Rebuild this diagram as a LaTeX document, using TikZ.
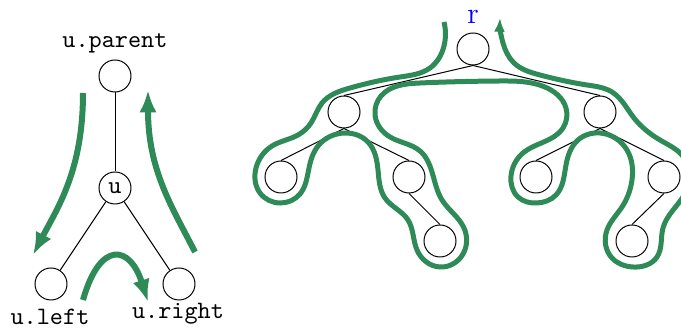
\documentclass[tikz,border=0pt]{standalone}
\usetikzlibrary{hobby,arrows.meta}
\definecolor{tourgreen}{RGB}{46,139,87}
\tikzset{vertex/.style={circle, draw, minimum size=12.8pt, inner sep=0pt, font=\ttfamily},
         tag/.style={font=\ttfamily, inner sep=0pt},
         walk/.style={tourgreen, line width=2.4pt, -{Latex[length=9pt,width=7pt]}},
         tour/.style={tourgreen, line width=2pt, -{Latex[length=5.5pt,width=4.4pt]}, use Hobby shortcut}}

\begin{document}
\begin{tikzpicture}[x=0.4pt,y=-0.4pt]
  \clip (0,0) rectangle (681,331);
  % one step of the walk
  \node[vertex] (p)  at (115,76)  {};
  \node[vertex] (u)  at (115,188) {u};
  \node[vertex] (ul) at (51,284)  {};
  \node[vertex] (ur) at (179,284) {};
  \node[tag] (lp) at (115,43)  {u.parent};
  \node[tag] (ll) at (50,317)  {u.left};
  \node[tag] (lr) at (178,314) {u.right};
  \draw (p) -- (u);
  \draw (u) -- (ul);
  \draw (u) -- (ur);
  \draw[walk] (83,93) .. controls (83,170) and (58,207) .. (33,255);
  \draw[walk] (83,300) .. controls (100,240) and (130,245) .. (148,302);
  \draw[walk] (195,252) .. controls (172,207) and (148,170) .. (148,90);
  % the whole tree
  \node[vertex] (r)   at (473,49)  {};
  \node[vertex] (a)   at (344,112) {};
  \node[vertex] (b)   at (600,112) {};
  \node[vertex] (aa)  at (281,177) {};
  \node[vertex] (ab)  at (409,177) {};
  \node[vertex] (aba) at (440,241) {};
  \node[vertex] (ba)  at (536,177) {};
  \node[vertex] (bb)  at (664,177) {};
  \node[vertex] (bba) at (632,241) {};
  \node[blue, inner sep=0pt, font=\large] (lr0) at (473,17) {r};
  \draw (r.south) -- (a.north);
  \draw (r.south) -- (b.north);
  \draw (a.south) -- (aa.north);
  \draw (a.south) -- (ab.north);
  \draw (ab.south) -- (aba.north);
  \draw (b.south) -- (ba.north);
  \draw (b.south) -- (bb.north);
  \draw (bb.south) -- (bba.north);
  \draw[tour] (444,22) .. (444,46) .. (430,68) .. (400,77) .. (350,88) .. (322,103)
    .. (311,123) .. (298,135) .. (272,146) .. (256,168) .. (260,193) .. (280,203)
    .. (300,194) .. (309,168) .. (318,146) .. (345,133) .. (368,142) .. (378,170)
    .. (385,198) .. (408,220) .. (417,250) .. (440,267) .. (463,254) .. (464,228)
    .. (442,200) .. (432,172) .. (420,151) .. (390,137) .. (375,115) .. (381,96)
    .. (420,83) .. (500,81) .. (545,87) .. (566,108) .. (563,128) .. (523,153)
    .. (511,176) .. (518,197) .. (537,203) .. (556,195) .. (566,165) .. (578,140)
    .. (600,133) .. (627,150) .. (632,180) .. (622,207) .. (607,230) .. (612,258)
    .. (633,267) .. (657,257) .. (663,228) .. (683,197) .. (690,172) .. (680,153)
    .. (660,140) .. (634,118) .. (612,92) .. (587,85) .. (540,75) .. (514,63)
    .. (503,43) .. (500,18);
\end{tikzpicture}
\end{document}
